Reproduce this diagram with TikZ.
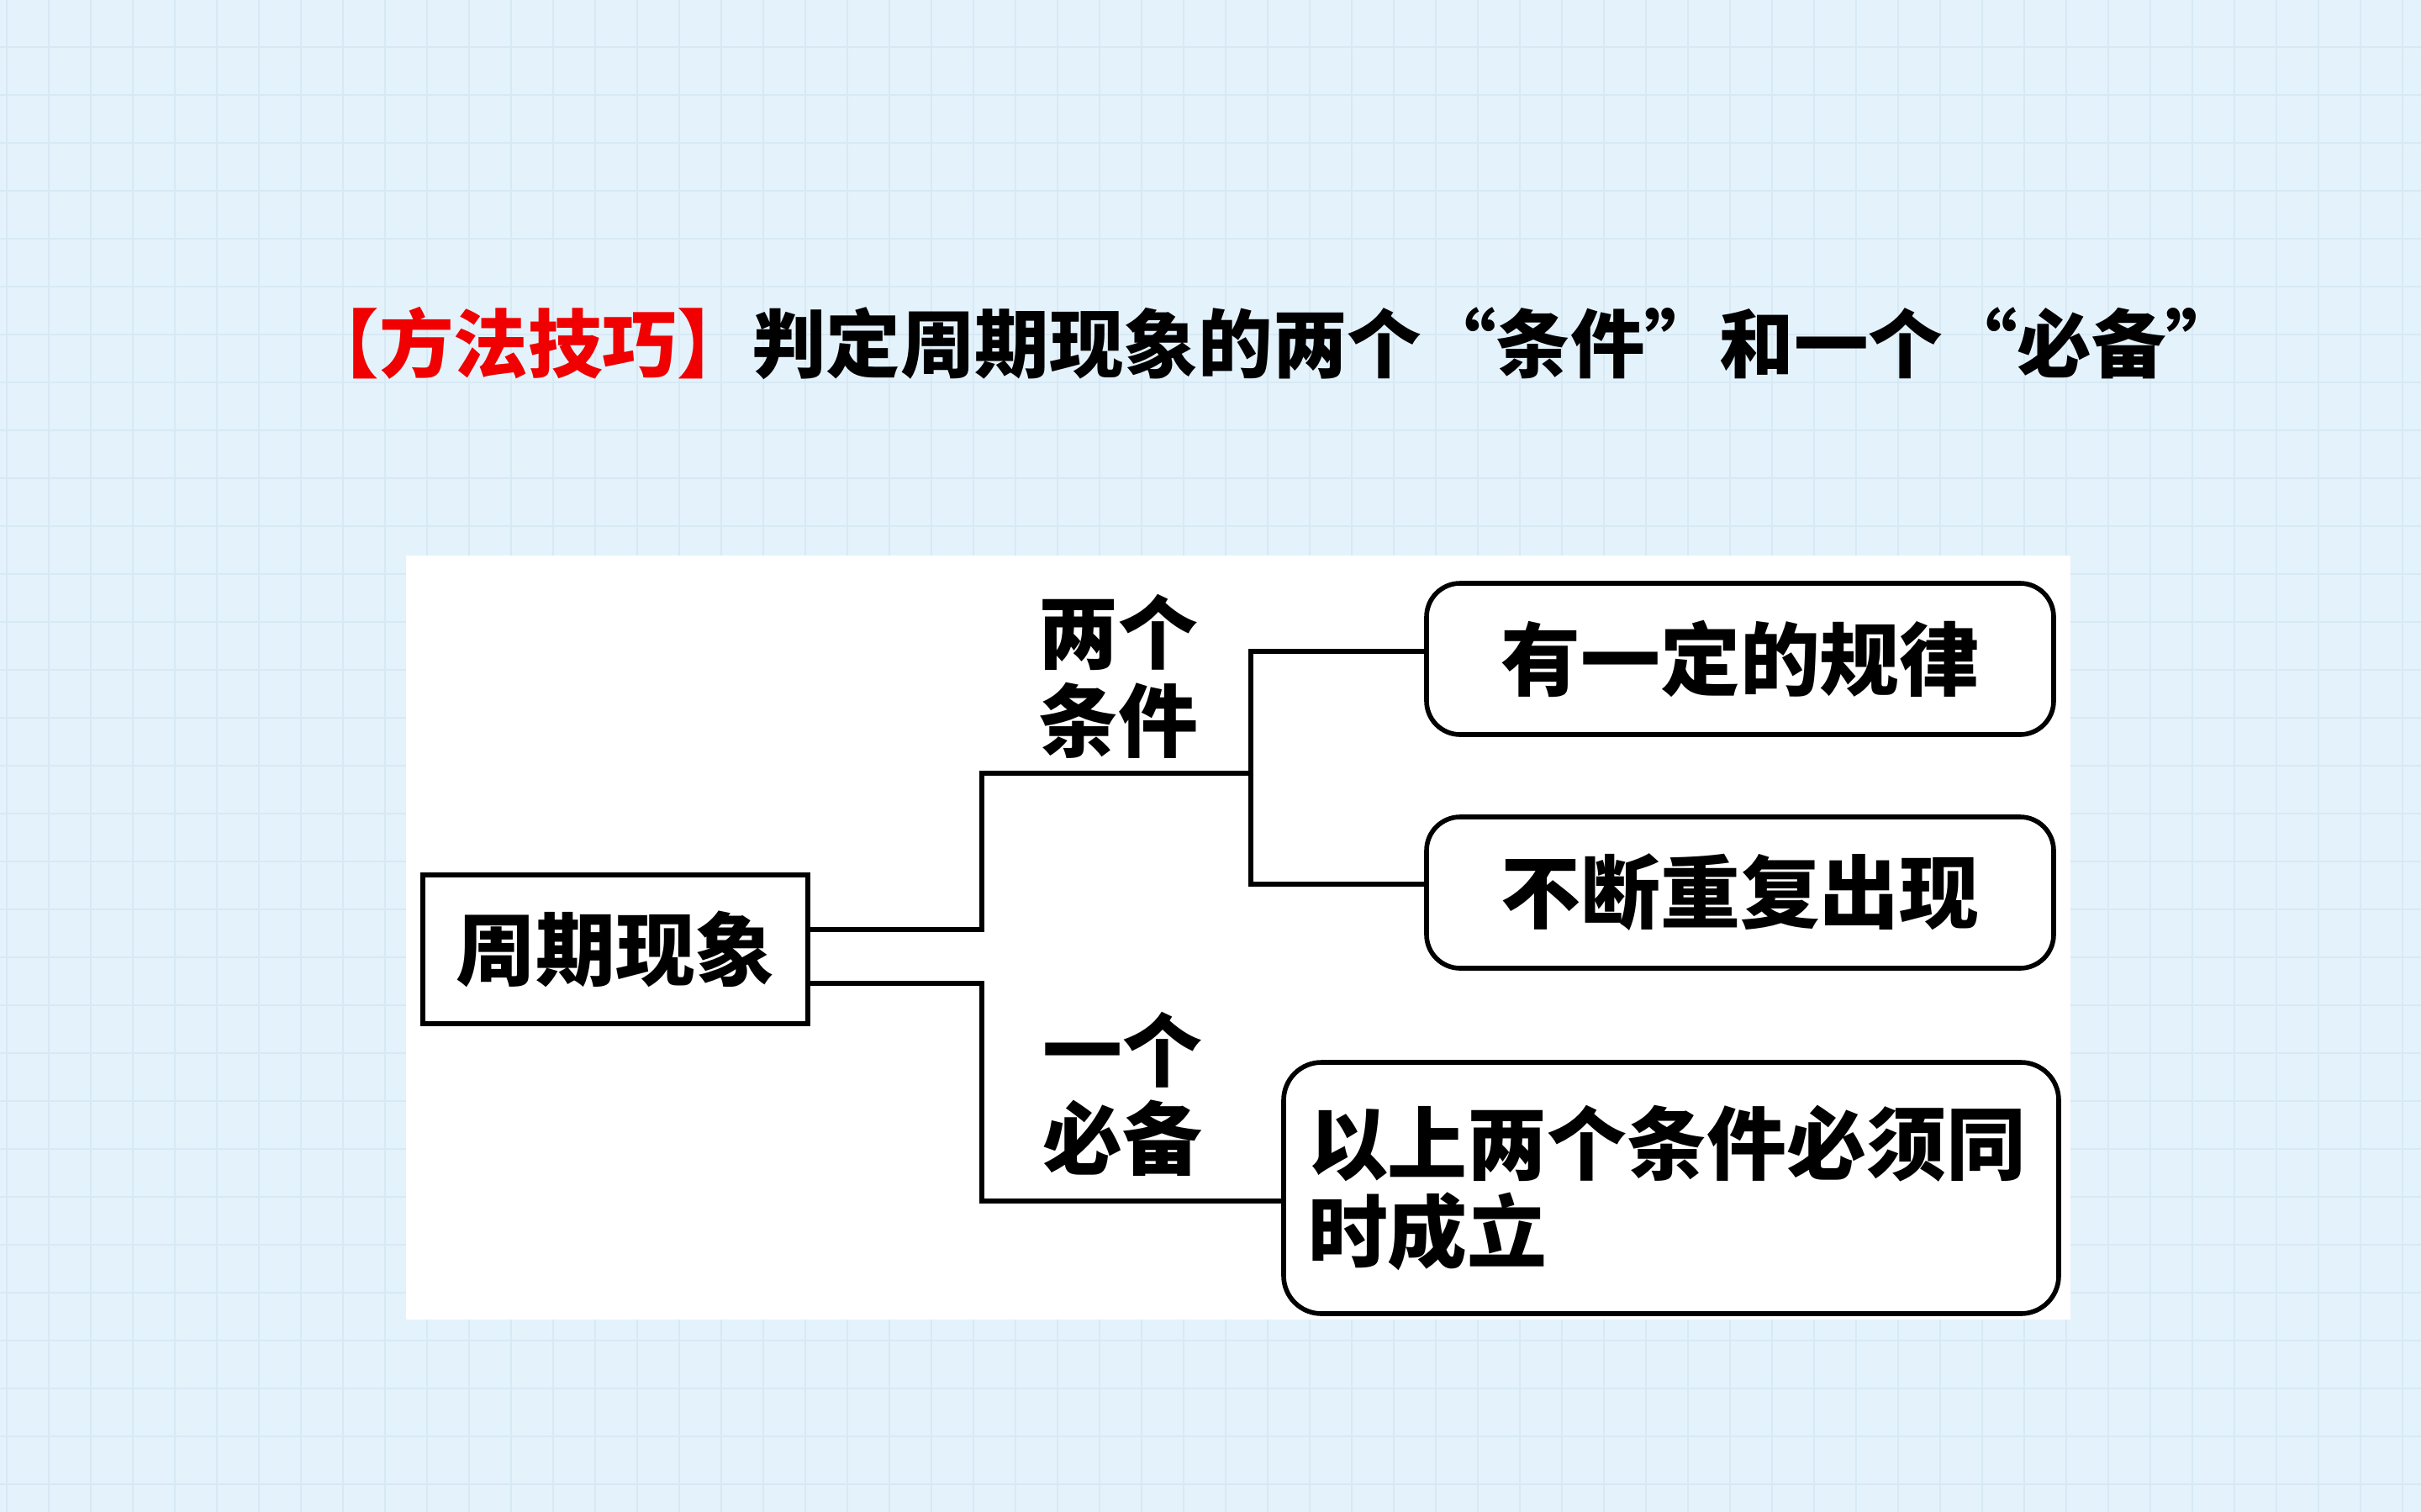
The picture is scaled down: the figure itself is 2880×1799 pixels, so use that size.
\documentclass[tikz,border=0pt]{standalone}
\usepackage{fontspec}
\newfontfamily\cjk{Noto Sans CJK SC}
\usetikzlibrary{calc}
\definecolor{bgblue}{HTML}{E4F2FB}
\definecolor{gridblue}{HTML}{D7E9F4}
\definecolor{titlered}{HTML}{F00000}
\tikzset{
  conn/.style={draw=black, line width=1.5pt},
  mainbox/.style={draw=black, line width=1.6pt, fill=white, minimum width=45.8mm, minimum height=17.7mm, inner sep=0pt, font=\cjk\bfseries\fontsize{27}{30}\selectfont},
  roundbox/.style={draw=black, line width=1.6pt, fill=white, rounded corners=4mm, minimum width=74.6mm, minimum height=18mm, inner sep=0pt, font=\cjk\bfseries\fontsize{27}{30}\selectfont},
  bigbox/.style={draw=black, line width=1.6pt, fill=white, rounded corners=4.5mm, minimum width=92mm, minimum height=29.9mm, inner xsep=2.9mm, inner ysep=0pt, text width=86.4mm, align=left, font=\cjk\bfseries\fontsize{27}{29.6}\selectfont},
  lbl/.style={inner sep=0pt, align=center, font=\cjk\bfseries\fontsize{27}{29.8}\selectfont},
  ttl/.style={inner sep=0pt, anchor=west, font=\cjk\bfseries\fontsize{25.2}{28}\selectfont}
}
\begin{document}
\begin{tikzpicture}[x=0.1mm, y=-0.1mm]
\useasboundingbox (0,0) rectangle (2880,1799);
\fill[bgblue] (0,0) rectangle (2880,1799);
\foreach \i in {0,...,57} { \draw[gridblue, line width=0.6pt] (8+50*\i,0) -- (8+50*\i,1799); }
\foreach \j in {0,...,31} { \draw[gridblue, line width=0.6pt] (0,56+57*\j) -- (2880,56+57*\j); }
% white panel
\fill[white] (483,661) rectangle (2463,1570);
% title
\node[ttl] (title) at (362,408) {\textcolor{titlered}{【方法技巧】}判定周期现象的两个“条件”和一个“必备”};
% nodes
\node[mainbox] (main) at (732,1129.5) {周期现象};
\node[roundbox] (r1) at (2070,784) {有一定的规律};
\node[roundbox] (r2) at (2070,1062) {不断重复出现};
\node[bigbox] (r3) at (1988,1413.5) {以上两个条件必须同\\时成立};
\node[lbl] (l1) at (1330,805) {两个\\条件};
\node[lbl] (l2) at (1335,1302) {一个\\必备};
\coordinate (up) at (1168,920);
\coordinate (dn) at (1168,1429);
\coordinate (fork) at (1488,920);
% connectors
\draw[conn] (main.east |- 0,1106) -| (up) -- (fork);
\draw[conn] (r1.west |- 0,775) -| (fork) |- (r2.west |- 0,1052);
\draw[conn] (main.east |- 0,1170) -| (dn) -- (r3.west |- dn);
\end{tikzpicture}
\end{document}
